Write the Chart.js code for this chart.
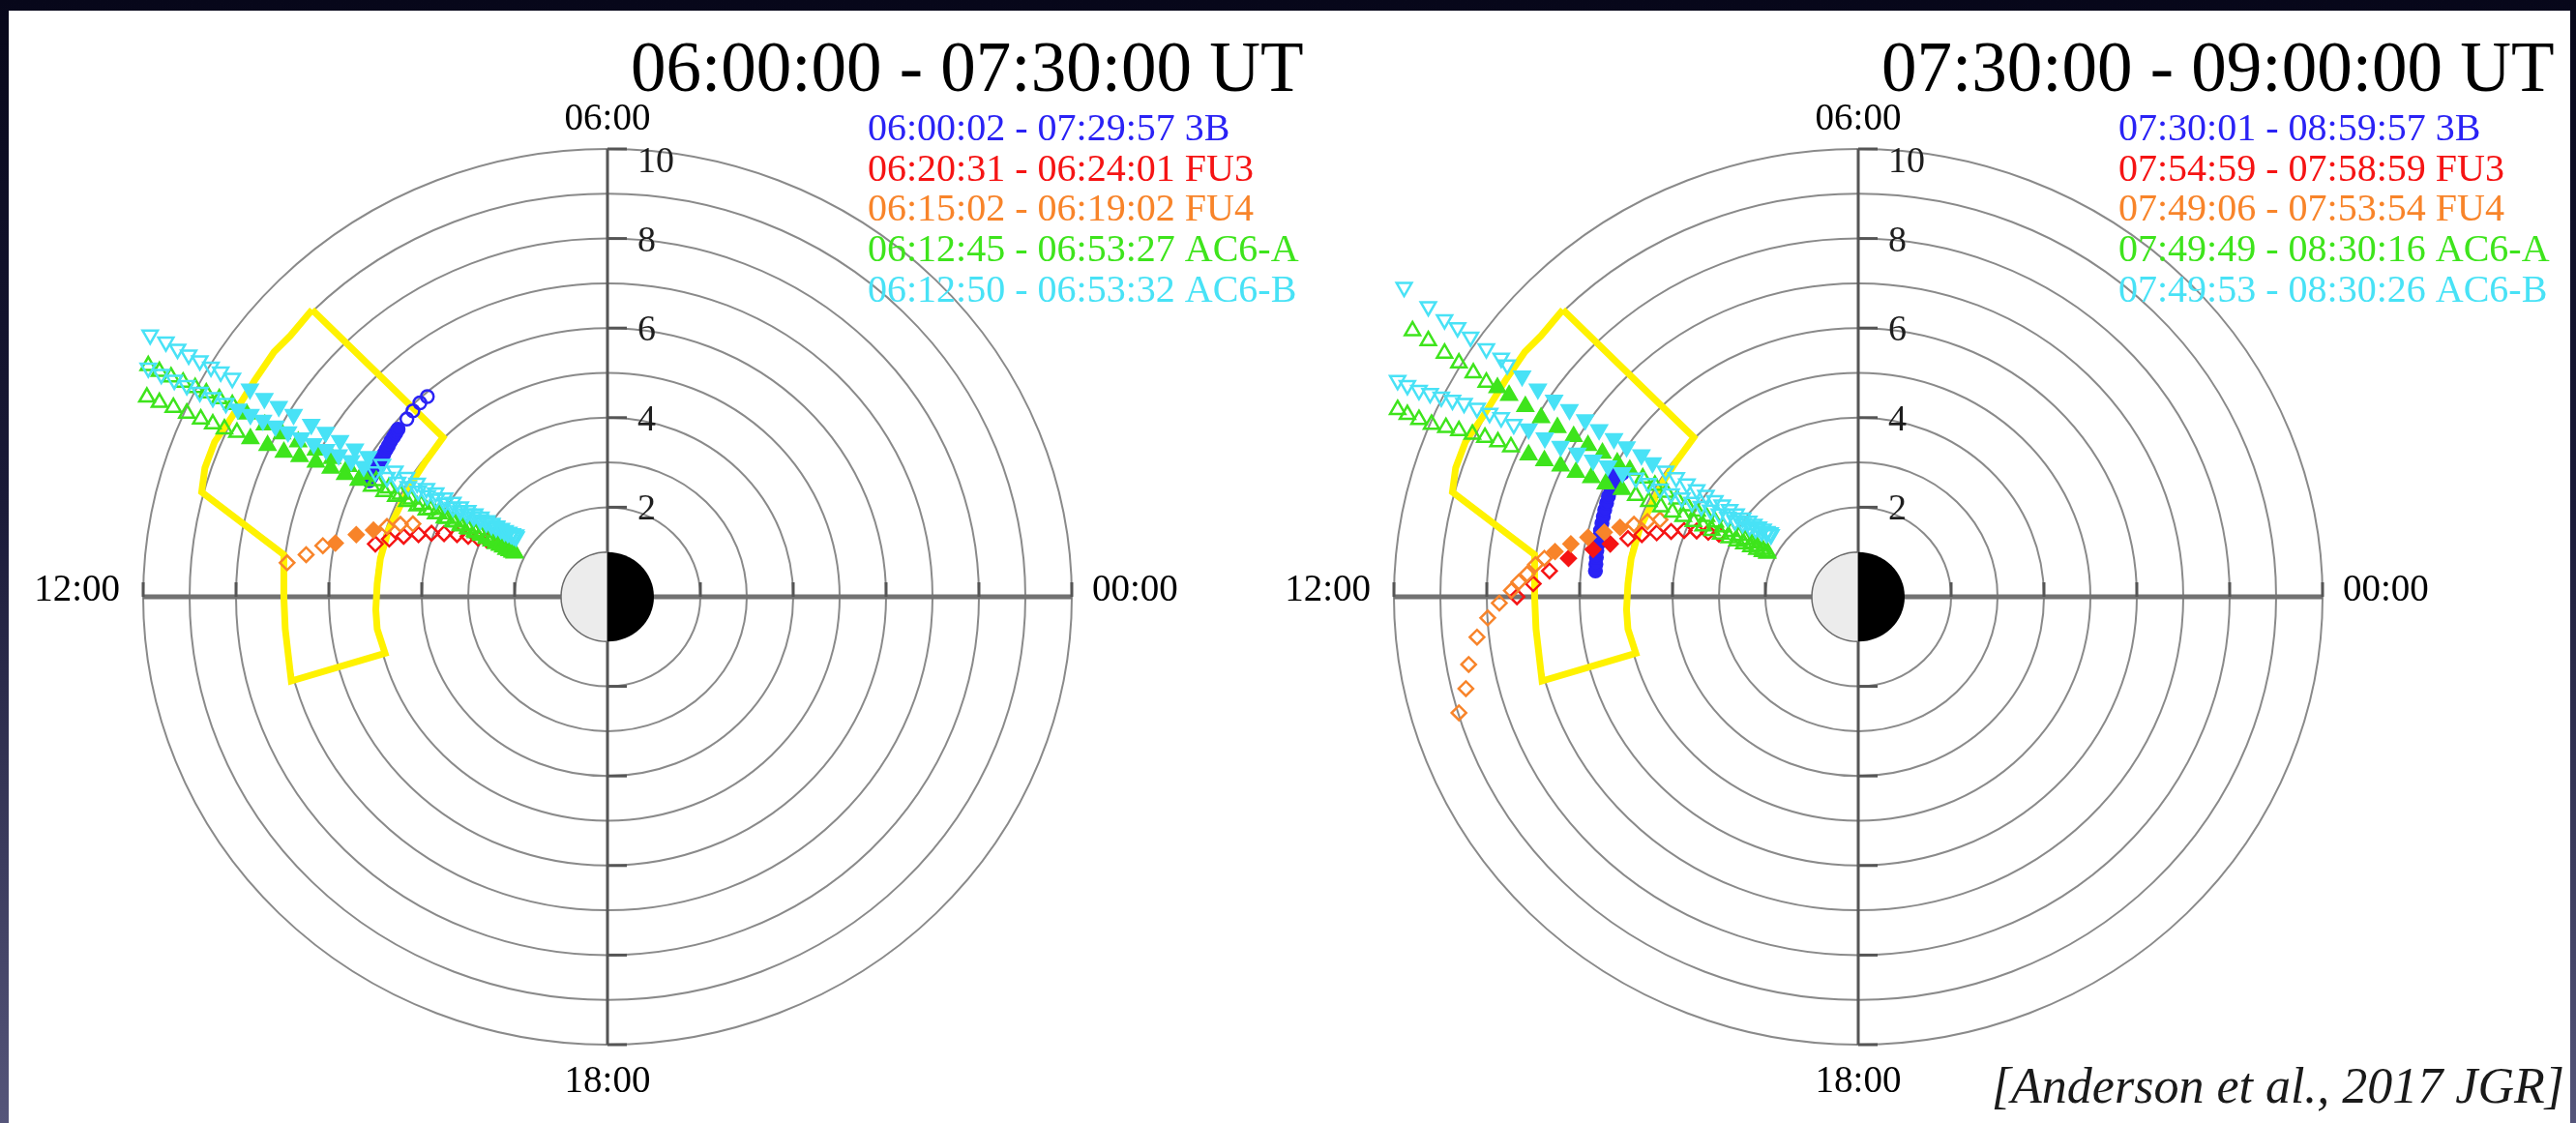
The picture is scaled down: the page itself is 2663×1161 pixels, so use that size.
<!DOCTYPE html>
<html>
<head>
<meta charset="utf-8">
<script src="https://cdn.jsdelivr.net/npm/chart.js@4.4.1/dist/chart.umd.min.js"></script>
<style>
  html, body { margin: 0; padding: 0; }
  body {
    width: 2663px; height: 1161px; overflow: hidden; position: relative;
    background: linear-gradient(to bottom, #07071a 0%, #1a1a38 45%, #55557a 100%);
  }
  #sheet { position: absolute; left: 9px; top: 11px; width: 2648px; height: 1150px; background: #ffffff; }
  canvas { position: absolute; left: 0; top: 0; }
  #cite {
    position: absolute; right: 12px; top: 1093px;
    font: italic 52px "Liberation Serif", serif; color: #1a1a1a; white-space: nowrap;
  }
</style>
</head>
<body>
<div id="sheet"></div>
<canvas id="dawnPanel" width="2663" height="1161"></canvas>
<canvas id="laterPanel" width="2663" height="1161"></canvas>
<div id="cite">[Anderson et al., 2017 JGR]</div>
<script>
// Equatorial-plane positions in Earth radii: x toward midnight (00 MLT), y toward dawn (06 MLT).
// Third entry: 1 = filled symbol (conjunction interval), 0 = open symbol.

const panelTitles = ['06:00:00 - 07:30:00 UT', '07:30:00 - 09:00:00 UT'];
const seriesNames = ['3B', 'FU3', 'FU4', 'AC6-A', 'AC6-B'];
const seriesColors = ['#2a22f5', '#f51414', '#f8842a', '#3ee41c', '#48e2f6'];
const boxColor = '#fff200';
const dawnRanges = ['06:00:02 - 07:29:57', '06:20:31 - 06:24:01', '06:15:02 - 06:19:02', '06:12:45 - 06:53:27', '06:12:50 - 06:53:32'];
const laterRanges = ['07:30:01 - 08:59:57', '07:54:59 - 07:58:59', '07:49:06 - 07:53:54', '07:49:49 - 08:30:16', '07:49:53 - 08:30:26'];
const mltLabels = ['00:00', '06:00', '12:00', '18:00'];
const ringShells = [2, 3, 4, 5, 6, 7, 8, 9, 10];
const radialTicks = [2, 4, 6, 8, 10];

// Outline of the region of interest (same in both panels)
const boxOutline = [[-6.36,6.41],[-3.54,3.56],[-3.92,3.02],[-4.19,2.59],[-4.47,2.02],[-4.71,1.51],[-4.89,0.86],[-4.96,0.29],[-4.99,-0.29],[-4.96,-0.72],[-4.79,-1.26],[-6.81,-1.88],[-6.94,-0.72],[-6.97,0.00],[-6.97,0.94],[-8.74,2.34],[-8.67,2.88],[-8.46,3.46],[-8.08,4.03],[-7.60,4.83],[-7.18,5.47],[-6.83,5.83],[-6.36,6.41]];

// ---- 06:00 - 07:30 UT ----
const dawn3B = [[-5.13,2.59,1],[-5.08,2.69,1],[-5.03,2.79,1],[-4.98,2.89,1],[-4.93,2.99,1],[-4.88,3.08,1],[-4.82,3.18,1],[-4.77,3.28,1],[-4.72,3.37,1],[-4.67,3.47,1],[-4.61,3.57,1],[-4.56,3.65,1],[-4.51,3.74,1],[-4.32,3.97,0],[-4.19,4.15,0],[-4.04,4.33,0],[-3.88,4.47,0]];
const dawnFU3 = [[-5.00,1.18,0],[-4.70,1.29,0],[-4.39,1.35,0],[-4.07,1.39,0],[-3.79,1.42,0],[-3.52,1.41,0],[-3.24,1.39,0],[-3.00,1.35,0],[-2.79,1.31,0],[-2.60,1.27,0]];
const dawnFU4 = [[-6.90,0.76,0],[-6.49,0.94,0],[-6.13,1.14,0],[-5.86,1.20,1],[-5.41,1.39,1],[-5.04,1.49,1],[-4.75,1.57,0],[-4.46,1.62,0],[-4.19,1.63,0]];
const dawnAC6A = [
  [-9.89,5.16,0],[-9.65,5.03,0],[-9.40,4.91,0],[-9.14,4.79,0],[-8.88,4.67,0],[-8.64,4.55,0],[-8.36,4.42,0],[-8.08,4.29,0],
  [-7.77,4.08,1],[-7.38,3.84,1],[-7.01,3.64,1],[-6.66,3.46,1],[-6.28,3.28,1],[-5.93,3.09,1],[-5.58,2.91,1],[-5.27,2.74,1],
  [-4.98,2.59,0],[-4.71,2.43,0],[-4.46,2.29,0],[-4.23,2.18,0],[-4.01,2.06,0],[-3.81,1.95,0],[-3.63,1.85,0],[-3.45,1.75,0],[-3.28,1.67,0],[-3.13,1.58,0],[-2.98,1.51,0],[-2.84,1.43,0],[-2.72,1.37,0],[-2.60,1.30,0],[-2.50,1.25,0],[-2.41,1.19,0],[-2.32,1.15,0],[-2.25,1.11,0],[-2.18,1.06,0],[-2.11,1.03,0],[-2.05,1.00,0],[-2.00,0.98,0],
  [-9.92,4.46,0],[-9.65,4.34,0],[-9.35,4.23,0],[-9.06,4.10,0],[-8.76,3.97,0],[-8.50,3.86,0],[-8.25,3.75,0],[-7.98,3.67,0],
  [-7.69,3.53,1],[-7.32,3.38,1],[-6.97,3.23,1],[-6.63,3.13,1],[-6.28,3.01,1],[-5.96,2.87,1],[-5.65,2.73,1],[-5.36,2.60,1],
  [-5.08,2.47,0],[-4.81,2.35,0],[-4.56,2.24,0],[-4.32,2.13,0],[-4.10,2.03,0],[-3.90,1.94,0],[-3.70,1.85,0],[-3.51,1.76,0],[-3.33,1.68,0],[-3.17,1.60,0],[-3.01,1.53,0],[-2.86,1.46,0],[-2.73,1.40,0],[-2.60,1.33,0],[-2.49,1.28,0],[-2.39,1.22,0],[-2.29,1.17,0],[-2.21,1.13,0],[-2.14,1.08,0],[-2.07,1.04,0],[-2.01,1.00,0]
];
const dawnAC6B = [
  [-9.85,5.85,0],[-9.51,5.69,0],[-9.26,5.53,0],[-9.02,5.40,0],[-8.78,5.27,0],[-8.54,5.13,0],[-8.33,5.02,0],[-8.08,4.88,0],
  [-7.70,4.64,1],[-7.39,4.43,1],[-7.08,4.25,1],[-6.76,4.07,1],[-6.38,3.85,1],[-6.07,3.67,1],[-5.76,3.49,1],[-5.44,3.30,1],[-5.15,3.13,1],
  [-4.85,2.96,0],[-4.58,2.81,0],[-4.33,2.67,0],[-4.10,2.54,0],[-3.90,2.42,0],[-3.70,2.32,0],[-3.51,2.21,0],[-3.33,2.11,0],[-3.17,2.01,0],[-3.01,1.93,0],[-2.86,1.85,0],[-2.73,1.78,0],[-2.60,1.70,0],[-2.49,1.64,0],[-2.39,1.58,0],[-2.29,1.53,0],[-2.21,1.48,0],[-2.13,1.44,0],[-2.05,1.41,0],[-1.98,1.38,0],
  [-9.89,5.11,0],[-9.61,4.97,0],[-9.33,4.84,0],[-9.06,4.72,0],[-8.78,4.57,0],[-8.50,4.45,0],[-8.22,4.32,0],
  [-7.96,4.19,1],[-7.69,4.07,1],[-7.42,3.94,1],[-7.15,3.81,1],[-6.88,3.68,1],[-6.60,3.55,1],[-6.33,3.42,1],[-6.06,3.29,1],[-5.79,3.17,1],[-5.52,3.04,1],[-5.25,2.91,1],
  [-5.00,2.79,0],[-4.75,2.67,0],[-4.52,2.56,0],[-4.29,2.46,0],[-4.08,2.36,0],[-3.88,2.26,0],[-3.69,2.18,0],[-3.50,2.09,0],[-3.33,2.00,0],[-3.17,1.92,0],[-3.02,1.85,0],[-2.88,1.79,0],[-2.74,1.72,0],[-2.61,1.66,0],[-2.50,1.60,0],[-2.40,1.55,0],[-2.30,1.51,0],[-2.22,1.46,0],[-2.15,1.43,0],[-2.08,1.40,0],[-2.02,1.37,0],[-1.97,1.34,0]
];

// ---- 07:30 - 09:00 UT ----
const later3B = [[-5.66,0.58,1],[-5.65,0.73,1],[-5.64,0.88,1],[-5.63,1.03,1],[-5.60,1.18,1],[-5.58,1.33,1],[-5.55,1.48,1],[-5.52,1.64,1],[-5.49,1.79,1],[-5.46,1.94,1],[-5.42,2.09,1],[-5.38,2.24,1],[-5.32,2.39,1],[-5.25,2.54,1],[-5.17,2.67,1],[-5.08,2.76,1],[-5.27,2.72,1]];
const laterFU3 = [[-7.35,0.00,0],[-7.00,0.29,0],[-6.65,0.58,0],[-6.24,0.86,1],[-5.71,1.06,1],[-5.34,1.18,1],[-4.96,1.30,0],[-4.66,1.39,0],[-4.34,1.43,0],[-4.03,1.46,0],[-3.75,1.48,0],[-3.48,1.47,0],[-3.23,1.44,0],[-3.00,1.40,0]];
const laterFU4 = [[-8.60,-2.59,0],[-8.45,-2.05,0],[-8.39,-1.51,0],[-8.21,-0.90,0],[-7.98,-0.47,0],[-7.73,-0.14,0],[-7.47,0.14,0],[-7.31,0.33,0],[-7.13,0.51,0],[-6.95,0.72,0],[-6.76,0.86,0],[-6.53,1.01,1],[-6.19,1.18,1],[-5.82,1.33,1],[-5.47,1.44,1],[-5.13,1.55,1],[-4.83,1.62,0],[-4.54,1.68,0],[-4.27,1.72,0]];
const laterAC6A = [
  [-9.60,5.94,0],[-9.26,5.72,0],[-8.91,5.44,0],[-8.60,5.22,0],[-8.29,5.00,0],[-8.01,4.79,0],
  [-7.77,4.67,1],[-7.52,4.50,1],[-7.17,4.25,1],[-6.83,4.00,1],[-6.48,3.78,1],[-6.13,3.58,1],[-5.82,3.38,1],[-5.51,3.21,1],[-5.19,2.99,1],[-4.92,2.83,1],
  [-4.64,2.65,0],[-4.38,2.49,0],[-4.13,2.33,0],[-3.90,2.18,0],[-3.68,2.03,0],[-3.47,1.91,0],[-3.27,1.79,0],[-3.08,1.67,0],[-2.91,1.56,0],[-2.74,1.46,0],[-2.58,1.37,0],[-2.44,1.28,0],[-2.30,1.20,0],[-2.18,1.13,0],[-2.06,1.06,0],[-1.96,1.00,0],
  [-9.92,4.18,0],[-9.71,4.07,0],[-9.46,3.96,0],[-9.19,3.85,0],[-8.88,3.78,0],[-8.60,3.71,0],[-8.31,3.63,0],[-8.04,3.56,0],[-7.76,3.46,0],[-7.48,3.35,0],
  [-7.10,3.17,1],[-6.76,3.04,1],[-6.41,2.92,1],[-6.08,2.78,1],[-5.75,2.66,1],[-5.44,2.52,1],[-5.09,2.40,1],
  [-4.79,2.26,0],[-4.51,2.13,0],[-4.25,2.01,0],[-4.00,1.89,0],[-3.77,1.79,0],[-3.55,1.68,0],[-3.34,1.58,0],[-3.15,1.48,0],[-2.96,1.40,0],[-2.78,1.32,0],[-2.61,1.25,0],[-2.46,1.18,0],[-2.31,1.12,0],[-2.18,1.06,0],[-2.06,1.01,0],[-1.96,0.97,0]
];
const laterAC6B = [
  [-9.78,6.91,0],[-9.26,6.48,0],[-8.91,6.19,0],[-8.63,6.01,0],[-8.35,5.80,0],[-8.01,5.54,0],[-7.69,5.33,0],[-7.56,5.18,0],
  [-7.24,4.93,1],[-6.90,4.64,1],[-6.55,4.39,1],[-6.22,4.18,1],[-5.88,3.95,1],[-5.58,3.73,1],[-5.26,3.53,1],[-4.99,3.35,1],[-4.67,3.17,1],[-4.43,2.99,1],
  [-4.15,2.81,0],[-3.92,2.66,0],[-3.69,2.52,0],[-3.48,2.39,0],[-3.28,2.27,0],[-3.09,2.15,0],[-2.93,2.05,0],[-2.77,1.95,0],[-2.63,1.85,0],[-2.49,1.76,0],[-2.36,1.69,0],[-2.25,1.62,0],[-2.15,1.56,0],[-2.05,1.51,0],[-1.97,1.46,0],[-1.90,1.43,0],
  [-9.92,4.83,0],[-9.71,4.72,0],[-9.46,4.61,0],[-9.22,4.54,0],[-8.98,4.46,0],[-8.74,4.39,0],[-8.49,4.32,0],[-8.21,4.21,0],[-7.94,4.10,0],[-7.69,4.00,0],[-7.42,3.85,0],
  [-7.10,3.75,1],[-6.75,3.55,1],[-6.41,3.36,1],[-6.05,3.21,1],[-5.71,3.05,1],[-5.39,2.92,1],[-5.08,2.77,1],
  [-4.79,2.65,0],[-4.52,2.53,0],[-4.27,2.41,0],[-4.03,2.30,0],[-3.80,2.21,0],[-3.58,2.11,0],[-3.38,2.02,0],[-3.18,1.94,0],[-2.99,1.85,0],[-2.81,1.78,0],[-2.65,1.70,0],[-2.49,1.64,0],[-2.34,1.57,0],[-2.21,1.52,0],[-2.08,1.46,0],[-1.97,1.42,0],[-1.88,1.39,0]
];

const toPoints = arr => arr.map(([x, y, f]) => ({ x, y, f }));
const fillWhen = color => ctx => (ctx.raw && ctx.raw.f) ? color : 'rgba(0,0,0,0)';

// Rings of constant L, the two MLT axes, the Earth disc and all the labels
const mltFrame = {
  id: 'mltFrame',
  beforeDatasetsDraw(chart) {
    const { ctx, scales: { x, y } } = chart;
    const cx = x.getPixelForValue(0), cy = y.getPixelForValue(0);
    const rx = v => Math.abs(x.getPixelForValue(v) - cx);
    const ry = v => Math.abs(y.getPixelForValue(v) - cy);
    const rMax = ringShells[ringShells.length - 1];
    ctx.save();
    ctx.strokeStyle = '#8a8a8a';
    ctx.lineWidth = 2;
    ringShells.forEach(L => {
      ctx.beginPath();
      ctx.ellipse(cx, cy, rx(L), ry(L), 0, 0, Math.PI * 2);
      ctx.stroke();
    });
    ctx.strokeStyle = '#727272';
    ctx.lineWidth = 5;
    ctx.beginPath();
    ctx.moveTo(x.getPixelForValue(-rMax), cy);
    ctx.lineTo(x.getPixelForValue(rMax), cy);
    ctx.stroke();
    ctx.strokeStyle = '#555555';
    ctx.lineWidth = 3;
    ctx.beginPath();
    ctx.moveTo(cx, y.getPixelForValue(rMax));
    ctx.lineTo(cx, y.getPixelForValue(-rMax));
    ctx.stroke();
    radialTicks.forEach(v => {
      [v, -v].forEach(s => {
        const px = x.getPixelForValue(s);
        ctx.beginPath(); ctx.moveTo(px, cy); ctx.lineTo(px, cy - 15); ctx.stroke();
        const py = y.getPixelForValue(s);
        ctx.beginPath(); ctx.moveTo(cx, py); ctx.lineTo(cx + 20, py); ctx.stroke();
      });
    });
    // Earth: dayside (noon, left) light, nightside dark
    ctx.beginPath();
    ctx.ellipse(cx, cy, rx(1), ry(1), 0, Math.PI / 2, Math.PI * 1.5);
    ctx.closePath();
    ctx.fillStyle = '#ececec';
    ctx.fill();
    ctx.strokeStyle = '#6a6a6a';
    ctx.lineWidth = 1.5;
    ctx.stroke();
    ctx.beginPath();
    ctx.ellipse(cx, cy, rx(1), ry(1), 0, -Math.PI / 2, Math.PI / 2);
    ctx.closePath();
    ctx.fillStyle = '#000000';
    ctx.fill();
    ctx.restore();
  },
  afterDatasetsDraw(chart, args, opts) {
    const { ctx, scales: { x, y } } = chart;
    const cx = x.getPixelForValue(0), cy = y.getPixelForValue(0);
    const top = y.getPixelForValue(10), bottom = y.getPixelForValue(-10);
    const left = x.getPixelForValue(-10), right = x.getPixelForValue(10);
    ctx.save();
    ctx.textBaseline = 'alphabetic';
    ctx.textAlign = 'left';
    ctx.fillStyle = '#000000';
    ctx.font = '73px "Liberation Serif"';
    ctx.fillText(opts.title, cx + 24, top - 60);
    ctx.font = '40px "Liberation Serif"';
    opts.ranges.forEach((r, i) => {
      ctx.fillStyle = seriesColors[i];
      ctx.fillText(r + ' ' + seriesNames[i], cx + 269, top - 9 + 41.7 * i);
    });
    ctx.fillStyle = '#000000';
    ctx.font = '39px "Liberation Serif"';
    ctx.textAlign = 'center';
    ctx.fillText(mltLabels[1], cx, top - 20);
    ctx.fillText(mltLabels[3], cx, bottom + 49);
    ctx.textAlign = 'right';
    ctx.fillText(mltLabels[2], left - 24, cy + 4);
    ctx.textAlign = 'left';
    ctx.fillText(mltLabels[0], right + 21, cy + 4);
    ctx.font = '38px "Liberation Serif"';
    ctx.textBaseline = 'middle';
    ctx.fillStyle = '#1e1e1e';
    radialTicks.forEach(v => {
      const py = y.getPixelForValue(v);
      ctx.fillText(String(v), cx + 31, v === 10 ? py + 14 : py + 3);
    });
    ctx.restore();
  }
};

function buildPanel(canvasId, padding, s, title, ranges) {
  const marker = (data, i, style, radius, extra) => Object.assign({
    label: seriesNames[i],
    data: toPoints(data),
    showLine: false,
    pointStyle: style,
    pointRadius: radius,
    pointBorderWidth: 2.5,
    borderColor: seriesColors[i],
    pointBorderColor: seriesColors[i],
    pointBackgroundColor: fillWhen(seriesColors[i]),
    order: 5 - i,
    clip: false
  }, extra || {});
  const datasets = [
    {
      label: 'region',
      data: boxOutline.map(([x, y]) => ({ x, y })),
      showLine: true,
      borderColor: boxColor,
      borderWidth: 7,
      borderJoinStyle: 'miter',
      pointRadius: 0,
      fill: false,
      tension: 0,
      order: 10,
      clip: false
    },
    marker(s[0], 0, 'circle', 6.5),
    marker(s[1], 1, 'rectRot', 7.5),
    marker(s[2], 2, 'rectRot', 7.5),
    marker(s[3], 3, 'triangle', 9),
    marker(s[4], 4, 'triangle', 9, { pointRotation: 180 })
  ];
  return new Chart(document.getElementById(canvasId), {
    type: 'scatter',
    data: { datasets },
    options: {
      responsive: false,
      animation: false,
      devicePixelRatio: 1,
      events: [],
      layout: { padding },
      scales: {
        x: { type: 'linear', min: -10, max: 10, display: false },
        y: { type: 'linear', min: -10, max: 10, display: false }
      },
      plugins: {
        legend: { display: false },
        tooltip: { enabled: false },
        mltFrame: { title, ranges }
      }
    },
    plugins: [mltFrame]
  });
}

buildPanel('dawnPanel', { left: 148, right: 1555, top: 154, bottom: 81 },
  [dawn3B, dawnFU3, dawnFU4, dawnAC6A, dawnAC6B], panelTitles[0], dawnRanges);
buildPanel('laterPanel', { left: 1441, right: 262, top: 154, bottom: 81 },
  [later3B, laterFU3, laterFU4, laterAC6A, laterAC6B], panelTitles[1], laterRanges);
</script>
</body>
</html>
